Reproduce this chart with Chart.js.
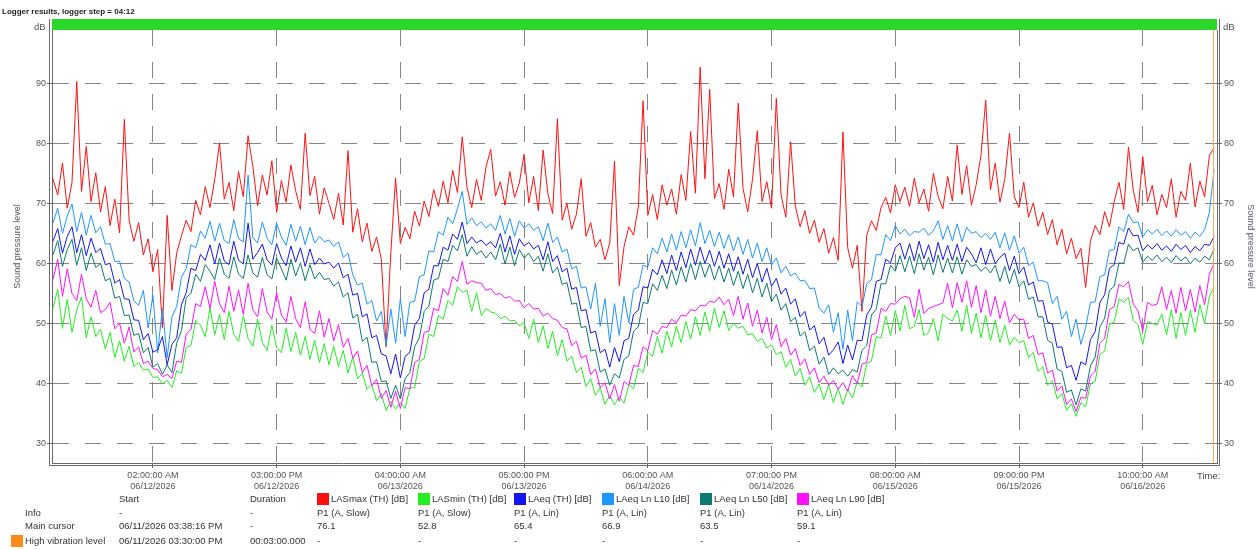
<!DOCTYPE html>
<html>
<head>
<meta charset="utf-8">
<script src="https://cdn.jsdelivr.net/npm/chart.js@4.4.1/dist/chart.umd.min.js"></script>
<style>
  html, body { margin: 0; padding: 0; background: #fff; }
  #wrap { position: relative; width: 1259px; height: 550px; font-family: "Liberation Sans", Arial, sans-serif; font-size: 9.5px; color: #333; }
  #wrap canvas { position: absolute; left: 0; top: 0; }
  .t { position: absolute; white-space: nowrap; line-height: 12px; }
  .sw { position: absolute; width: 12px; height: 12px; }
</style>
</head>
<body>
<div id="wrap">
  <canvas id="chart" width="1259" height="550"></canvas>
  <div class="t" style="left:2px;top:6px;font-size:8px;font-weight:bold;color:#222;">Logger results, logger step = 04:12</div>
  <div class="t" style="left:34px;top:21px;color:#555;">dB</div>
  <div class="t" style="left:1223px;top:21px;color:#555;">dB</div>
  <div class="t" style="left:1197px;top:470px;color:#444;">Time:</div>
  <div id="table"></div>
</div>
<script>
// hours since 06/11/2026 00:00
const firstSampleHour = 15.5;
const sampleStepHours = 0.5;
const xMinHour = 15.4;
const xMaxHour = 137.8;

const xTickHours = [26, 39, 52, 65, 78, 91, 104, 117, 130];
const xTickTimes = ['02:00:00 AM', '03:00:00 PM', '04:00:00 AM', '05:00:00 PM', '06:00:00 AM', '07:00:00 PM', '08:00:00 AM', '09:00:00 PM', '10:00:00 AM'];
const xTickDates = ['06/12/2026', '06/12/2026', '06/13/2026', '06/13/2026', '06/14/2026', '06/14/2026', '06/15/2026', '06/15/2026', '06/16/2026'];
const yTickValues = [30, 40, 50, 60, 70, 80, 90];

const lasMax = [
  74.2, 71.5, 76.8, 69.3, 73.6, 90.4, 72.1, 79.6, 70.4, 75.2,
  68.7, 72.9, 66.4, 70.8, 65.2, 84.1, 67.3, 63.8, 66.9, 61.5,
  64.2, 58.7, 62.4, 49.3, 68.1, 55.6, 61.8, 64.7, 67.3, 65.4,
  70.6, 68.2, 72.9, 69.4, 74.1, 80.2, 70.8, 73.6, 68.9, 75.4,
  71.2, 81.4, 76.3, 69.7, 74.8, 71.5, 77.2, 68.6, 73.9, 70.3,
  76.5, 72.2, 69.1, 81.8, 71.4, 74.6, 68.3, 72.7, 70.1, 67.4,
  71.8, 66.5, 78.9, 65.3, 69.2, 63.7, 66.8, 62.1, 64.5, 60.8,
  46.2, 61.9, 74.3, 63.4, 66.1, 64.2, 68.8, 66.3, 70.5, 67.9,
  72.4, 69.6, 73.8, 70.2, 75.6, 71.9, 81.2, 72.8, 69.4, 74.1,
  70.6, 76.2, 79.1, 71.3, 73.7, 69.8, 75.4, 71.1, 73.5, 78.3,
  70.2, 74.6, 68.9, 79.0, 71.7, 68.4, 84.2, 67.3, 70.1, 65.8,
  68.3, 74.2, 64.6, 66.9, 62.8, 64.1, 60.7, 63.5, 77.1, 56.4,
  62.9, 66.2, 64.8, 69.5, 87.2, 68.1, 71.6, 67.4, 73.2, 69.8,
  72.5, 68.3, 74.9, 70.6, 82.1, 71.8, 92.8, 74.2, 89.1, 70.9,
  73.4, 69.1, 75.8, 71.2, 86.8, 72.6, 68.7, 74.1, 82.2, 70.4,
  73.7, 69.3, 87.6, 71.5, 67.8, 80.4, 69.6, 66.2, 68.9, 65.1,
  67.3, 63.6, 65.9, 61.8, 64.4, 60.6, 82.0, 62.7, 59.3, 63.1,
  52.1, 64.8, 67.2, 65.6, 69.4, 71.1, 68.5, 73.2, 70.4, 72.8,
  69.6, 74.3, 70.2, 72.5, 68.8, 75.1, 71.3, 69.2, 74.6, 70.5,
  79.8, 71.6, 76.4, 69.8, 73.2, 78.1, 87.3, 72.4, 76.8, 70.3,
  74.1, 81.8, 71.2, 69.4, 73.6, 67.8, 70.2, 66.3, 68.6, 64.9,
  67.4, 63.2, 65.8, 61.7, 64.3, 60.9, 62.6, 56.1, 63.8, 66.4,
  64.9, 68.7, 66.2, 70.4, 73.6, 69.1, 79.5, 72.3, 68.6, 77.9,
  70.4, 73.1, 68.2, 71.6, 69.4, 74.2, 67.8, 72.1, 70.6, 76.8,
  69.5, 73.8, 71.2, 78.1, 79.4
];

const lasMin = [
  52.6, 55.8, 49.3, 54.1, 48.6, 52.4, 54.5, 47.7, 51.2, 47.9,
  49.1, 45.8, 48.6, 44.4, 47.2, 43.8, 46.3, 42.9, 43.6, 42.3,
  42.5, 41.1, 41.2, 40.0, 40.6, 39.4, 42.2, 41.8, 46.1, 46.4,
  50.6, 49.8, 47.9, 52.7, 48.2, 51.6, 47.4, 52.1, 48.3, 47.1,
  51.4, 47.6, 46.3, 50.8, 46.9, 45.6, 49.8, 46.1, 45.2, 49.3,
  45.4, 48.6, 44.8, 47.9, 44.1, 47.3, 43.6, 46.7, 43.2, 46.3,
  42.9, 45.6, 41.8, 44.5, 40.9, 41.8, 39.1, 39.9, 37.2, 38.4,
  35.6, 37.1, 35.8, 36.9, 35.9, 39.3, 39.4, 43.8, 44.2, 48.3,
  47.9, 51.4, 50.8, 53.9, 53.1, 56.2, 55.3, 55.6, 52.1, 55.2,
  51.4, 52.6, 52.0, 51.8, 50.9, 51.3, 50.5, 50.6, 49.7, 50.2,
  47.6, 50.8, 46.9, 49.7, 45.9, 48.8, 44.7, 47.4, 43.8, 44.6,
  41.9, 42.8, 39.6, 40.9, 38.1, 39.4, 36.6, 38.1, 36.5, 37.9,
  36.8, 39.9, 39.2, 42.6, 41.9, 45.3, 44.6, 47.9, 45.1, 48.8,
  46.2, 49.6, 46.9, 50.4, 47.5, 51.2, 48.1, 52.0, 48.8, 52.6,
  49.4, 52.2, 48.9, 50.1, 49.3, 49.6, 48.2, 48.4, 47.1, 47.6,
  46.0, 46.5, 44.9, 45.4, 42.8, 44.1, 41.3, 42.6, 39.8, 41.2,
  38.6, 40.0, 37.4, 39.9, 36.9, 39.3, 36.6, 39.1, 37.7, 40.4,
  39.5, 43.4, 43.8, 47.9, 47.7, 51.3, 48.1, 52.2, 48.8, 53.1,
  49.2, 49.6, 52.4, 48.1, 48.6, 50.9, 47.2, 51.6, 50.9, 50.5,
  52.3, 48.8, 53.1, 48.4, 51.8, 47.7, 51.5, 47.2, 50.6, 46.9,
  49.8, 46.5, 47.8, 46.9, 47.2, 44.4, 45.3, 42.1, 42.9, 39.8,
  40.6, 37.5, 38.4, 35.6, 36.7, 34.6, 36.9, 36.2, 40.0, 40.4,
  44.9, 45.5, 50.0, 50.3, 54.2, 53.6, 54.4, 50.6, 49.9, 46.6,
  50.4, 50.1, 49.8, 51.7, 48.2, 52.4, 47.6, 51.9, 48.1, 52.3,
  48.6, 53.2, 50.1, 54.6, 56.2
];

const laeq = [
  63.8, 65.9, 61.8, 64.6, 66.2, 61.9, 64.9, 61.4, 64.3, 61.9,
  62.6, 59.9, 60.1, 56.8, 57.4, 54.2, 54.1, 50.7, 50.6, 47.4,
  48.4, 45.3, 45.7, 47.9, 43.2, 46.6, 47.7, 53.2, 55.2, 59.3,
  58.9, 61.6, 60.6, 63.2, 60.0, 63.5, 60.5, 59.9, 63.8, 60.6,
  60.0, 66.8, 60.8, 61.9, 63.3, 60.7, 59.8, 63.4, 61.0, 59.7,
  63.0, 60.3, 62.7, 59.6, 62.5, 59.9, 61.0, 60.0, 60.3, 59.3,
  60.2, 57.7, 58.3, 54.8, 55.1, 51.2, 51.7, 47.7, 48.1, 45.0,
  44.7, 41.7, 45.0, 41.0, 44.6, 45.3, 49.8, 50.9, 55.2, 55.8,
  59.7, 59.7, 62.8, 62.3, 65.0, 64.1, 67.0, 63.4, 64.5, 63.5,
  64.0, 63.1, 63.7, 62.7, 65.1, 62.0, 64.7, 61.6, 64.2, 63.0,
  63.6, 62.5, 63.1, 60.7, 63.7, 60.4, 61.4, 58.7, 59.3, 55.8,
  56.1, 52.2, 52.4, 48.5, 48.8, 45.2, 45.8, 42.8, 46.1, 43.7,
  47.2, 47.6, 51.6, 52.3, 56.2, 56.0, 59.1, 58.2, 60.7, 58.4,
  61.5, 58.9, 62.0, 59.4, 62.5, 59.8, 62.8, 60.1, 62.3, 59.6,
  62.1, 59.3, 61.7, 58.8, 61.2, 58.3, 60.8, 57.7, 60.1, 57.0,
  59.3, 56.3, 57.6, 55.0, 56.0, 53.3, 54.2, 51.2, 52.1, 49.0,
  49.7, 46.7, 47.8, 44.8, 45.7, 47.0, 43.4, 46.5, 44.0, 47.3,
  47.2, 51.5, 52.8, 57.1, 57.4, 60.8, 60.2, 62.7, 63.5, 60.8,
  63.4, 60.5, 63.8, 60.9, 63.2, 60.3, 63.6, 60.7, 63.1, 60.6,
  63.3, 60.4, 62.8, 61.7, 60.2, 62.7, 59.9, 62.5, 60.1, 61.1,
  61.8, 58.9, 61.3, 58.4, 59.5, 56.5, 57.0, 53.8, 53.9, 50.3,
  50.0, 46.1, 46.2, 42.7, 43.1, 40.6, 43.7, 43.2, 47.4, 48.7,
  53.6, 54.9, 59.3, 59.9, 63.6, 63.3, 66.0, 64.7, 64.8, 62.2,
  63.2, 62.5, 63.4, 62.3, 63.0, 62.1, 63.3, 62.4, 63.1, 61.9,
  62.9, 62.2, 63.3, 63.1, 64.6
];

const laeqL10 = [
  66.8, 69.3, 65.1, 68.0, 70.0, 65.4, 68.6, 64.8, 68.1, 65.2,
  66.2, 63.3, 63.4, 60.4, 60.5, 57.6, 57.0, 53.9, 53.1, 55.6,
  49.3, 54.8, 45.2, 52.7, 44.4, 51.2, 52.9, 57.8, 59.2, 63.2,
  62.7, 65.5, 64.3, 67.1, 63.8, 66.8, 63.9, 63.4, 67.4, 64.2,
  63.7, 74.8, 64.4, 63.5, 67.0, 64.3, 63.2, 66.8, 64.5, 63.1,
  66.6, 63.8, 66.3, 63.2, 66.1, 63.5, 64.6, 63.7, 64.0, 62.9,
  63.7, 61.1, 61.8, 58.2, 56.5, 56.8, 53.3, 53.9, 50.5, 52.1,
  46.4, 52.5, 46.8, 54.2, 47.9, 53.6, 53.8, 57.9, 58.2, 62.2,
  62.0, 65.4, 64.8, 67.8, 66.7, 69.2, 72.1, 66.6, 67.7, 66.4,
  67.0, 66.0, 66.7, 65.6, 68.1, 65.0, 67.6, 64.6, 67.2, 66.0,
  66.7, 65.6, 66.2, 63.9, 66.8, 63.6, 64.5, 62.0, 62.5, 59.2,
  59.6, 56.0, 56.2, 52.5, 56.8, 49.6, 54.2, 46.9, 53.4, 48.1,
  54.6, 50.2, 55.8, 56.1, 59.8, 59.5, 62.7, 61.7, 64.3, 62.0,
  65.0, 62.3, 65.4, 62.7, 65.7, 63.0, 66.9, 63.4, 65.6, 62.9,
  65.3, 62.6, 64.9, 62.2, 64.5, 61.6, 64.1, 61.0, 63.5, 60.4,
  62.7, 59.8, 61.0, 58.5, 59.6, 58.0, 58.5, 57.2, 57.3, 55.9,
  56.0, 52.7, 51.8, 53.2, 48.6, 51.9, 45.8, 52.3, 47.2, 53.7,
  52.9, 56.7, 57.4, 61.6, 61.5, 64.9, 63.9, 66.4, 65.0, 65.8,
  64.7, 65.4, 65.3, 66.0, 64.8, 65.5, 67.2, 64.1, 66.4, 63.8,
  66.7, 63.7, 66.1, 65.1, 65.4, 64.4, 65.1, 64.1, 65.3, 62.7,
  65.2, 62.3, 64.7, 61.8, 62.8, 59.7, 60.3, 57.2, 57.2, 56.9,
  53.4, 54.6, 50.8, 52.1, 47.9, 50.8, 46.6, 49.4, 53.6, 53.7,
  57.9, 58.2, 62.3, 62.4, 66.2, 65.4, 68.3, 66.9, 67.0, 64.5,
  65.7, 65.0, 65.8, 64.7, 65.5, 64.6, 65.7, 64.8, 65.4, 64.3,
  65.3, 64.6, 65.7, 68.6, 75.8
];

const laeqL50 = [
  61.5, 63.9, 59.6, 62.4, 64.1, 59.8, 62.7, 58.9, 61.8, 59.4,
  60.1, 57.2, 57.6, 54.3, 54.6, 51.4, 51.5, 48.1, 48.4, 45.2,
  46.1, 42.8, 43.4, 41.6, 43.2, 41.9, 46.8, 48.9, 54.4, 55.1,
  58.3, 57.1, 59.9, 58.8, 57.4, 61.0, 58.3, 57.6, 61.2, 58.3,
  57.6, 61.5, 58.5, 57.8, 61.1, 58.2, 57.5, 61.0, 59.2, 57.3,
  60.8, 58.0, 60.2, 57.2, 59.9, 57.5, 58.6, 57.4, 57.6, 56.3,
  57.0, 54.5, 55.2, 51.0, 51.6, 47.1, 47.8, 43.6, 43.7, 40.4,
  40.5, 37.6, 39.8, 37.5, 40.9, 41.9, 46.2, 47.7, 52.1, 53.0,
  57.3, 57.6, 60.8, 60.4, 63.1, 62.2, 64.9, 61.3, 62.9, 61.6,
  62.2, 61.0, 62.0, 60.7, 63.3, 60.0, 62.8, 59.7, 62.4, 61.0,
  61.8, 60.4, 61.3, 58.8, 61.7, 58.5, 59.5, 56.6, 56.9, 53.3,
  53.5, 49.4, 49.6, 45.5, 45.7, 42.0, 42.5, 39.8, 41.7, 41.0,
  44.1, 44.7, 48.8, 49.5, 53.6, 53.4, 56.7, 55.6, 58.1, 55.9,
  59.0, 56.5, 59.5, 57.0, 60.1, 57.4, 60.4, 57.8, 60.0, 57.3,
  59.7, 57.0, 59.3, 56.4, 58.8, 55.9, 58.3, 55.2, 57.6, 54.5,
  56.8, 53.7, 55.0, 52.3, 53.4, 50.4, 51.1, 48.0, 48.7, 45.6,
  46.3, 43.3, 44.5, 41.6, 42.7, 41.7, 42.3, 41.3, 42.4, 42.0,
  45.6, 46.4, 51.5, 52.5, 56.7, 56.7, 59.8, 58.8, 61.4, 58.7,
  61.3, 58.4, 61.7, 59.0, 61.1, 58.2, 61.5, 58.6, 61.0, 58.5,
  61.2, 58.3, 60.7, 59.6, 59.9, 58.8, 59.5, 58.5, 59.8, 57.1,
  59.6, 56.7, 59.1, 56.2, 57.2, 54.1, 54.5, 51.2, 51.2, 47.3,
  46.8, 42.5, 42.1, 38.6, 39.0, 36.5, 39.2, 38.8, 43.0, 44.5,
  49.5, 51.0, 55.6, 56.3, 60.2, 60.1, 63.3, 62.2, 62.7, 60.3,
  61.3, 60.6, 61.5, 60.4, 61.1, 60.2, 61.4, 60.5, 61.2, 60.0,
  61.0, 60.3, 61.3, 60.7, 62.5
];

const laeqL90 = [
  57.4, 60.8, 54.6, 59.2, 55.1, 53.9, 58.3, 54.2, 52.8, 55.6,
  51.9, 52.4, 53.6, 49.2, 50.1, 46.8, 49.5, 45.3, 46.2, 43.4,
  43.8, 42.6, 42.4, 41.2, 41.6, 40.9, 43.8, 43.6, 48.3, 49.1,
  53.4, 52.9, 56.2, 52.6, 57.1, 53.4, 51.9, 56.3, 52.1, 55.7,
  51.6, 56.8, 52.4, 51.2, 55.9, 52.0, 50.8, 55.2, 51.5, 50.3,
  54.6, 50.9, 49.4, 53.7, 49.1, 48.4, 52.2, 47.8, 50.9, 47.2,
  49.9, 46.1, 47.6, 44.3, 45.5, 41.9, 43.1, 39.7, 40.8, 37.6,
  38.9, 36.1, 38.8, 35.9, 39.4, 39.2, 43.6, 44.1, 48.6, 48.8,
  52.6, 52.2, 55.9, 54.8, 57.9, 57.1, 60.4, 56.6, 57.2, 56.9,
  56.8, 55.6, 55.9, 54.9, 55.1, 54.3, 54.6, 53.8, 53.9, 52.7,
  53.4, 52.5, 52.6, 51.3, 51.8, 50.9, 50.6, 49.4, 49.2, 46.4,
  47.1, 44.3, 44.8, 41.6, 42.5, 39.4, 40.2, 37.5, 39.9, 37.1,
  40.4, 39.8, 43.1, 42.9, 46.2, 45.6, 48.9, 48.3, 49.6, 49.4,
  50.8, 50.2, 51.5, 51.3, 52.4, 52.2, 53.1, 53.0, 53.8, 53.6,
  54.5, 53.2, 54.1, 51.4, 54.6, 50.8, 53.5, 49.6, 52.3, 48.5,
  51.1, 47.4, 49.9, 46.2, 47.6, 44.8, 45.9, 43.1, 44.2, 41.6,
  42.7, 40.2, 41.3, 39.8, 40.6, 39.1, 40.2, 38.8, 41.4, 40.1,
  43.3, 43.6, 48.2, 48.5, 52.6, 52.1, 53.4, 53.3, 54.2, 54.6,
  54.4, 51.1, 55.8, 51.7, 52.6, 52.9, 53.2, 53.5, 56.8, 52.7,
  56.9, 53.6, 57.2, 52.8, 56.4, 51.9, 55.7, 51.3, 54.6, 50.9,
  53.8, 50.2, 51.6, 50.7, 50.8, 47.6, 48.1, 44.9, 45.2, 41.8,
  42.3, 38.8, 39.7, 36.6, 37.5, 35.4, 37.8, 37.6, 41.3, 42.1,
  46.8, 47.6, 52.4, 52.9, 56.6, 56.2, 57.1, 53.3, 52.2, 48.8,
  53.6, 53.1, 53.3, 56.2, 52.4, 55.6, 51.8, 56.1, 52.2, 55.8,
  52.0, 56.4, 53.2, 58.3, 60.1
];

const seriesNames = ['LASmax (TH) [dB]', 'LASmin (TH) [dB]', 'LAeq (TH) [dB]', 'LAeq Ln L10 [dB]', 'LAeq Ln L50 [dB]', 'LAeq Ln L90 [dB]'];
const seriesInfo = ['P1 (A, Slow)', 'P1 (A, Slow)', 'P1 (A, Lin)', 'P1 (A, Lin)', 'P1 (A, Lin)', 'P1 (A, Lin)'];
const cursorValues = ['76.1', '52.8', '65.4', '66.9', '63.5', '59.1'];
const seriesColors = ['#ff1010', '#22ee22', '#1414f0', '#1e96ff', '#0b7a70', '#ff10ff'];
const seriesValues = [lasMax, lasMin, laeq, laeqL10, laeqL50, laeqL90];
const drawOrder = [6, 5, 3, 4, 2, 1];

function toPoints(values) {
    return values.map((v, i) => ({ x: firstSampleHour + i * sampleStepHours, y: v }));
}

const tickFont = { family: 'Liberation Sans', size: 9 };
const gridColor = '#858585';

// green status bar, double axis lines and the orange marker
const frame = {
    id: 'frame',
    afterDraw(chart) {
        const { ctx, chartArea: a } = chart;
        ctx.save();
        ctx.fillStyle = '#2ad82a';
        ctx.fillRect(a.left, 19, a.right - a.left, 11);
        ctx.strokeStyle = '#ffaa55';
        ctx.lineWidth = 1;
        ctx.beginPath();
        ctx.moveTo(a.right - 3.5, a.top);
        ctx.lineTo(a.right - 3.5, a.bottom);
        ctx.stroke();
        ctx.strokeStyle = '#6a6a6a';
        ctx.beginPath();
        ctx.moveTo(a.left - 2.5, 19);
        ctx.lineTo(a.left - 2.5, a.bottom + 2.5);
        ctx.lineTo(a.right + 2.5, a.bottom + 2.5);
        ctx.lineTo(a.right + 2.5, 19);
        ctx.stroke();
        ctx.restore();
    }
};

new Chart(document.getElementById('chart'), {
    type: 'line',
    data: {
        datasets: seriesValues.map((vals, k) => ({
            label: seriesNames[k],
            data: toPoints(vals),
            borderColor: seriesColors[k],
            borderWidth: 1,
            pointRadius: 0,
            tension: 0,
            order: drawOrder[k]
        }))
    },
    options: {
        responsive: false,
        animation: false,
        layout: { padding: { top: 30, left: 0, right: 0, bottom: 0 } },
        plugins: {
            legend: { display: false },
            tooltip: { enabled: false }
        },
        scales: {
            x: {
                type: 'linear',
                min: xMinHour,
                max: xMaxHour,
                afterBuildTicks: s => { s.ticks = xTickHours.map(v => ({ value: v })); },
                afterFit: s => { s.height = 87; },
                ticks: {
                    autoSkip: false,
                    maxRotation: 0,
                    padding: 2,
                    font: tickFont,
                    color: '#555',
                    callback: v => {
                        const k = xTickHours.indexOf(v);
                        return k < 0 ? '' : [xTickTimes[k], xTickDates[k]];
                    }
                },
                grid: { color: gridColor, tickLength: 5, tickColor: '#666', tickBorderDash: [] },
                border: { color: '#6a6a6a', dash: [16, 16] }
            },
            y: {
                position: 'left',
                min: 26.83,
                max: 99,
                afterBuildTicks: s => { s.ticks = yTickValues.map(v => ({ value: v })); },
                afterFit: s => { s.width = 52; },
                ticks: { padding: 1, font: tickFont, color: '#555' },
                title: { display: true, text: 'Sound pressure level', font: tickFont, color: '#555', padding: { top: 12, bottom: 0 } },
                grid: { color: gridColor, tickLength: 5, tickColor: '#666', tickBorderDash: [] },
                border: { color: '#6a6a6a', dash: [16, 16] }
            },
            y2: {
                position: 'right',
                min: 26.83,
                max: 99,
                afterBuildTicks: s => { s.ticks = yTickValues.map(v => ({ value: v })); },
                afterFit: s => { s.width = 42; },
                ticks: { padding: 2, font: tickFont, color: '#555' },
                title: { display: true, text: 'Sound pressure level', font: tickFont, color: '#556', padding: { top: 3, bottom: 0 } },
                grid: { drawOnChartArea: false, tickLength: 5, tickColor: '#666' },
                border: { color: '#6a6a6a' }
            }
        }
    },
    plugins: [frame]
});

// info table under the chart
const table = document.getElementById('table');
function addText(x, y, text) {
    const d = document.createElement('div');
    d.className = 't';
    d.style.left = x + 'px';
    d.style.top = y + 'px';
    d.textContent = text;
    table.appendChild(d);
}
function addSwatch(x, y, color) {
    const d = document.createElement('div');
    d.className = 'sw';
    d.style.left = x + 'px';
    d.style.top = y + 'px';
    d.style.background = color;
    table.appendChild(d);
}
const rowY = [493, 507, 520, 535];
const colX = [317, 418, 514, 602, 700, 797];
addText(119, rowY[0], 'Start');
addText(250, rowY[0], 'Duration');
addText(25, rowY[1], 'Info');
addText(119, rowY[1], '-');
addText(250, rowY[1], '-');
addText(25, rowY[2], 'Main cursor');
addText(119, rowY[2], '06/11/2026 03:38:16 PM');
addText(250, rowY[2], '-');
addSwatch(11, rowY[3], '#ff8c1a');
addText(25, rowY[3], 'High vibration level');
addText(119, rowY[3], '06/11/2026 03:30:00 PM');
addText(250, rowY[3], '00:03:00.000');
seriesNames.forEach((name, k) => {
    addSwatch(colX[k], rowY[0], seriesColors[k]);
    addText(colX[k] + 14, rowY[0], name);
    addText(colX[k], rowY[1], seriesInfo[k]);
    addText(colX[k], rowY[2], cursorValues[k]);
    addText(colX[k], rowY[3], '-');
});
</script>
</body>
</html>
